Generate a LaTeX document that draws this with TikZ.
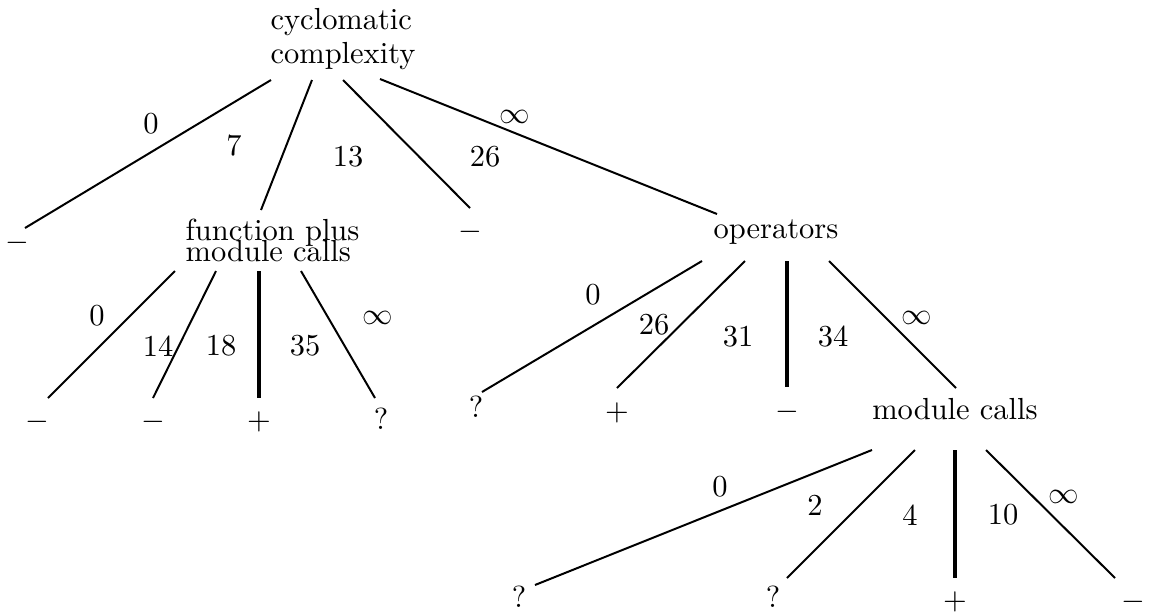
\documentclass[tikz,border=0pt]{standalone}
\begin{document}
\begin{tikzpicture}[x=0.328pt,y=-0.328pt,
  every node/.style={inner sep=0pt},
  edge/.style={line width=0.65pt},
  thickedge/.style={line width=1.4pt}]
\useasboundingbox (0,0) rectangle (1152,615);
% inner nodes
\node[anchor=north west, align=left] (root) at (270,7.8) {cyclomatic\\[-0.9pt]complexity};
\node[anchor=north west, align=left] (fp) at (185,218.8) {function plus\\[-5.4pt]module calls};
\node[anchor=base] (op) at (776,238) {operators};
\node[anchor=base] (mc) at (955,419) {module calls};
% leaves
\node (r1) at (17,243) {$-$};
\node (r3) at (470,232) {$-$};
\node (f1) at (37,422) {$-$};
\node (f2) at (153,422) {$-$};
\node (f3) at (259,422) {$+$};
\node (f4) at (381,419) {?};
\node (o1) at (476,407) {?};
\node (o2) at (617,413) {$+$};
\node (o3) at (787,412) {$-$};
\node (m1) at (519,597) {?};
\node (m2) at (773,597) {?};
\node (m3) at (955,602) {$+$};
\node (m4) at (1133,602) {$-$};
% edges from root
\draw[edge] ([shift={(1,72.2)}]root.north west) -- ([shift={(8,-15)}]r1.center);
\draw[edge] ([shift={(42,72.2)}]root.north west) -- ([shift={(76,-8.8)}]fp.north west);
\draw[edge] ([shift={(73,72.2)}]root.north west) -- ([shift={(0,-24)}]r3.center);
\draw[edge] ([shift={(110,71.2)}]root.north west) -- ([shift={(-59,-24)}]op.base);
% edges from function plus module calls
\draw[edge] ([shift={(-10,52.2)}]fp.north west) -- ([shift={(11,-24)}]f1.center);
\draw[edge] ([shift={(31,52.2)}]fp.north west) -- ([shift={(0,-24)}]f2.center);
\draw[thickedge] ([shift={(74,52.2)}]fp.north west) -- ([shift={(0,-24)}]f3.center);
\draw[edge] ([shift={(116,52.2)}]fp.north west) -- ([shift={(-6,-21)}]f4.center);
% edges from operators
\draw[edge] ([shift={(-74,23)}]op.base) -- ([shift={(6,-15)}]o1.center);
\draw[edge] ([shift={(-31,23)}]op.base) -- ([shift={(0,-25)}]o2.center);
\draw[thickedge] ([shift={(11,23)}]op.base) -- ([shift={(0,-25)}]o3.center);
\draw[edge] ([shift={(53,23)}]op.base) -- ([shift={(1,-31)}]mc.base);
% edges from module calls
\draw[edge] ([shift={(-83,31)}]mc.base) -- ([shift={(16,-12)}]m1.center);
\draw[edge] ([shift={(-40,31)}]mc.base) -- ([shift={(14,-19)}]m2.center);
\draw[thickedge] ([shift={(0,31)}]mc.base) -- ([shift={(0,-24)}]m3.center);
\draw[edge] ([shift={(31,31)}]mc.base) -- ([shift={(-18,-24)}]m4.center);
% threshold labels
\node (ra) at (151,124) {0};
\node (rb) at (234,146) {7};
\node (rc) at (348,157) {13};
\node (rd) at (485,157) {26};
\node (re) at (515,117) {$\infty$};
\node (fa) at (97,316) {0};
\node (fb) at (158,346) {14};
\node (fc) at (221,346) {18};
\node (fd) at (305,346) {35};
\node (fe) at (378,318) {$\infty$};
\node (oa) at (593,295) {0};
\node (ob) at (654,325) {26};
\node (oc) at (738,337) {31};
\node (od) at (833,337) {34};
\node (oe) at (917,318) {$\infty$};
\node (ma) at (720,487) {0};
\node (mb) at (815,505) {2};
\node (mc2) at (910,515) {4};
\node (md) at (1003,515) {10};
\node (me) at (1064,497) {$\infty$};
\end{tikzpicture}
\end{document}
